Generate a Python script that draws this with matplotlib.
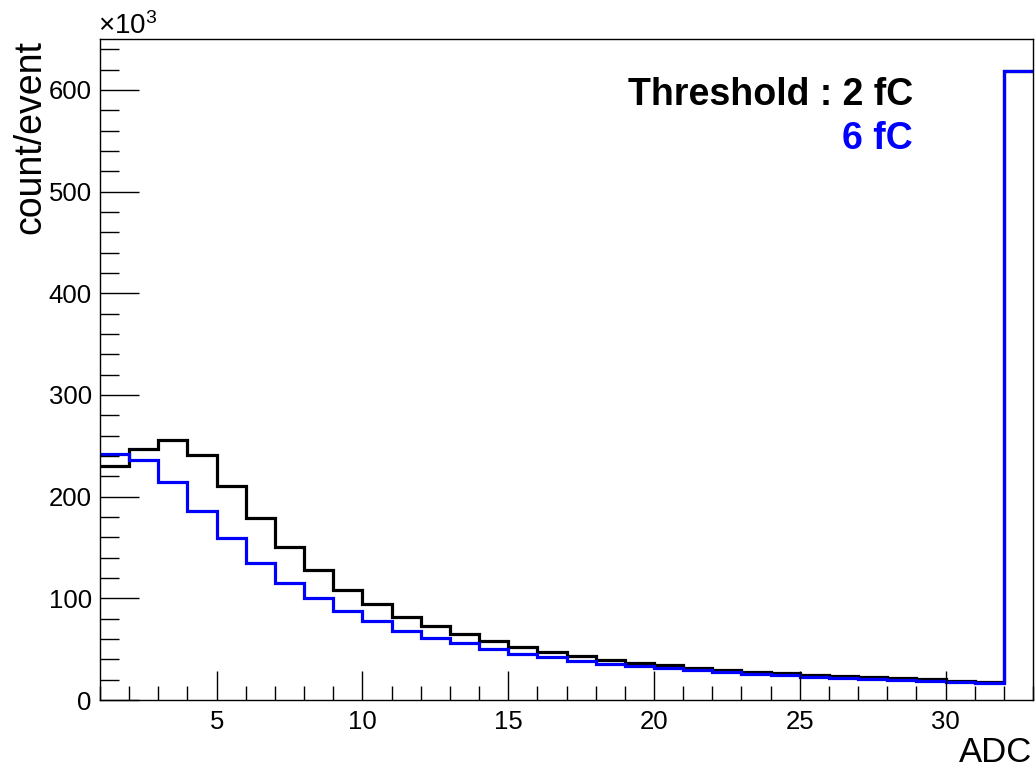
import numpy as np
import matplotlib
matplotlib.use("Agg")
import matplotlib.pyplot as plt
from matplotlib.ticker import MultipleLocator

# ADC bin edges (unit-width bins from 1 to 33)
adc_edges = np.arange(1, 34)

# counts per event, in units of 10^3
counts_2fC = [230, 247, 256, 241, 210, 178.5, 150.5, 127.5, 108.5, 94, 81.5,
              73, 65, 58, 52, 47, 43, 39.5, 36, 34, 31.5, 29.5, 27.8, 26.5,
              25, 23.8, 22.5, 21.3, 20.2, 19, 17.8, 619]
counts_6fC = [242, 236, 214.5, 185.5, 159, 134.5, 115.5, 100, 88, 77.3, 68,
              61.2, 55.7, 50.4, 45.5, 41.9, 38.6, 35.7, 33.1, 31.4, 29.8, 27.8,
              26, 24.6, 23, 22, 20.8, 19.8, 18.8, 17.8, 16.7, 619]

label_2fC = "Threshold : 2 fC"
label_6fC = "6 fC"

plt.rcParams["font.family"] = ["Liberation Sans", "DejaVu Sans"]
plt.rcParams["mathtext.fontset"] = "custom"
plt.rcParams["mathtext.rm"] = "Liberation Sans"
plt.rcParams["mathtext.it"] = "Liberation Sans:italic"

W, H = 1036, 769
fig = plt.figure(figsize=(W / 100, H / 100), dpi=100)
ax = fig.add_axes([100 / W, 1 - 700 / H, 933 / W, 661 / H])

ax.stairs(counts_2fC, adc_edges, baseline=None, color="black", lw=2.3)
ax.stairs(counts_6fC, adc_edges, baseline=None, color="#0000ff", lw=2.3)

ax.set_xlim(1, 33)
ax.set_ylim(0, 650)

ax.xaxis.set_major_locator(MultipleLocator(5))
ax.xaxis.set_minor_locator(MultipleLocator(1))
ax.yaxis.set_major_locator(MultipleLocator(100))
ax.yaxis.set_minor_locator(MultipleLocator(20))

ax.tick_params(axis="both", which="both", direction="in", top=False, right=False,
               labelsize=18.5, color="black", width=1)
ax.tick_params(axis="x", which="major", length=21, pad=7)
ax.tick_params(axis="x", which="minor", length=10)
ax.tick_params(axis="y", which="major", length=28, pad=6)
ax.tick_params(axis="y", which="minor", length=14)

for sp in ax.spines.values():
    sp.set_linewidth(1)

# axis titles, ROOT-style placement at the axis ends
fig.text(30 / W, 1 - 40 / H, "count/event", rotation=90, ha="center", va="top",
         fontsize=27)
fig.text(1032 / W, 1 - 752 / H, "ADC", ha="right", va="center", fontsize=25)
fig.text(98 / W, 1 - 34 / H, r"$\times$10$^{3}$", ha="left", va="baseline",
         fontsize=20)

fig.text(913 / W, 1 - 105 / H, label_2fC, ha="right", va="baseline",
         fontsize=27, fontweight="bold", color="black")
fig.text(913 / W, 1 - 149 / H, label_6fC, ha="right", va="baseline",
         fontsize=27, fontweight="bold", color="#0000ff")

fig.savefig("out.png", dpi=100)
